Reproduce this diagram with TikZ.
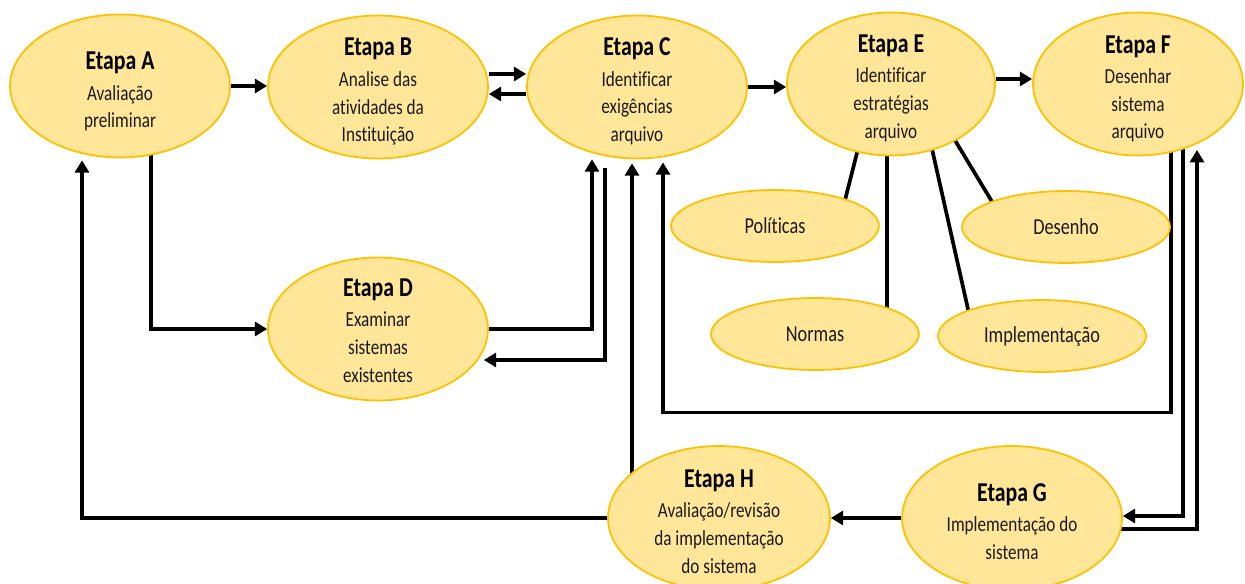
\documentclass[tikz,border=0pt]{standalone}
\usepackage{fontspec}
\setmainfont{Carlito}[FakeStretch=0.8, Ligatures={NoCommon,NoRequired,NoContextual}]
\usetikzlibrary{shapes.geometric,arrows.meta,calc,backgrounds}
\definecolor{efill}{HTML}{FFE699}
\definecolor{eline}{HTML}{FFC000}
\definecolor{etext}{HTML}{1A1A1A}
\newcommand\etapatitle[1]{{\fontsize{15.5}{17}\selectfont\bfseries\color{black}#1}\\[1.5pt]}
\begin{document}
\begin{tikzpicture}[x=0.02cm,y=-0.02cm,
  stage/.style={ellipse, draw=eline, line width=1pt, fill=efill, inner sep=0pt},
  bigstage/.style={stage, minimum width=4.4cm, minimum height=2.86cm},
  smallstage/.style={stage, minimum width=4.16cm, minimum height=1.44cm, text=etext, font=\fontsize{13}{15}\selectfont},
  txt/.style={align=center, text=etext, font=\fontsize{12.2}{15.8}\selectfont, inner sep=0pt},
  conn/.style={line width=2.1pt, -{Triangle[length=7pt,width=8pt]}},
  tie/.style={line width=2.1pt}]
\useasboundingbox (0,0) rectangle (1245,584);

\node[bigstage, label={[txt,yshift=-3.2pt]center:{\etapatitle{Etapa A}Avaliação\\preliminar}}] (A) at (120,86) {};
\node[bigstage, label={[txt,yshift=-2.8pt]center:{\etapatitle{Etapa B}Analise das\\atividades da\\Instituição}}] (B) at (378,87) {};
\node[bigstage, label={[txt,yshift=-2.5pt]center:{\etapatitle{Etapa C}Identificar\\exigências\\arquivo}}] (C) at (637,87) {};
\node[bigstage, minimum width=4.16cm, label={[txt,yshift=-2.5pt]center:{\etapatitle{Etapa E}Identificar\\estratégias\\arquivo}}] (E) at (891,84) {};
\node[bigstage, minimum width=4.2cm, label={[txt,yshift=-2.8pt]center:{\etapatitle{Etapa F}Desenhar\\sistema\\arquivo}}] (F) at (1138,84) {};
\node[bigstage, label={[txt,yshift=-1pt]center:{\etapatitle{Etapa D}Examinar\\sistemas\\existentes}}] (D) at (378,329) {};
\node[bigstage, minimum width=4.44cm, minimum height=2.88cm, label={[txt,yshift=-2pt]center:{\etapatitle{Etapa H}Avaliação/revisão\\da implementação\\do sistema}}] (H) at (719,518) {};
\node[bigstage, minimum height=2.88cm, label={[txt,yshift=-2pt]center:{\etapatitle{Etapa G}Implementação do\\sistema}}] (G) at (1012,518) {};

\node[smallstage] (Pol) at (775,226) {Políticas};
\node[smallstage] (Des) at (1066,227) {Desenho};
\node[smallstage] (Nor) at (815,334) {Normas};
\node[smallstage] (Imp) at (1042,336) {Implementação};

\begin{scope}[on background layer]
\draw[conn] (A.east) -- (A.east -| B.west);
\draw[conn] ($(B.east)+(0,-13)$) -- ($(C.west)+(0,-13)$);
\draw[conn] ($(C.west)+(0,7)$) -- ($(B.east)+(0,7)$);
\draw[conn] (C.east) -- (C.east -| E.west);
\draw[conn] ($(E.east)+(0,-5)$) -- ($(F.west)+(0,-5)$);
\draw[conn] ($(A.center)+(31,0)$) |- (D.west);
\draw[conn] (H.west) -| ($(A.south)+(-38,2)$);
\draw[conn] (D.east) -| ($(C.south)+(-45,0)$);
\draw[conn] ($(C.south)+(-32,9)$) |- ($(D.east)+(-5,31)$);
\draw[conn] ($(H.center)+(-87,0)$) -- ($(C.south)+(-5,4)$);
\draw[conn] ($(F.center)+(33,0)$) |- ($(C.south)+(26,253)$) -- ($(C.south)+(26,3)$);
\draw[conn] ($(F.center)+(45,0)$) |- ($(G.east)+(0,-2)$);
\draw[conn] ($(G.center)+(0,11)$) -| ($(F.center)+(59,66)$);
\draw[conn] (G.west) -- (G.west -| H.east);
\draw[tie] ($(E.center)+(-32,61)$) -- ($(Pol.center)+(68,-18)$);
\draw[tie] ($(E.center)+(-4,60)$) -- ($(Nor.center)+(72,-20)$);
\draw[tie] ($(E.center)+(39,56)$) -- ($(Imp.center)+(-72,-18)$);
\draw[tie] ($(E.center)+(59,48)$) -- ($(Des.center)+(-69,-17)$);
\end{scope}
\end{tikzpicture}
\end{document}
